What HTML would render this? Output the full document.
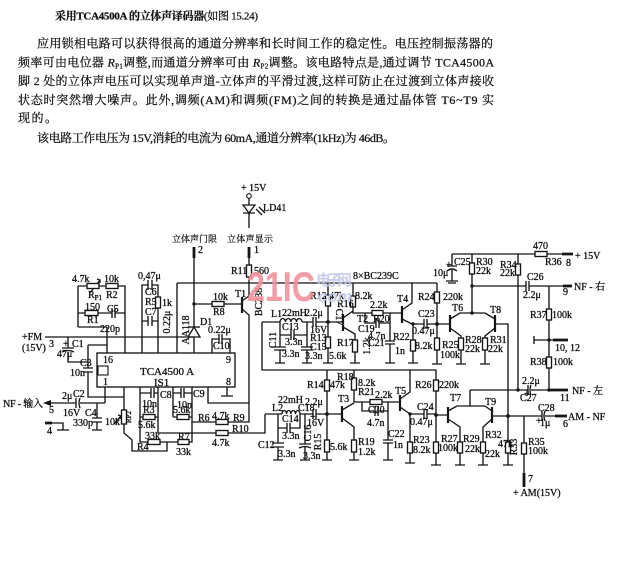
<!DOCTYPE html>
<html><head><meta charset="utf-8">
<style>
html,body{margin:0;padding:0;background:#fff;}
svg{display:block;}
.t{font-family:"Liberation Serif","Noto Serif CJK SC",serif;fill:#111;stroke:#111;stroke-width:0.25;}
.l{font-family:"Liberation Serif","Noto Serif CJK SC",serif;font-size:10px;fill:#111;stroke:#111;stroke-width:0.3;}
.c{font-family:"Liberation Serif","Noto Serif CJK SC",serif;font-size:9px;fill:#111;stroke:#111;stroke-width:0.2;}
.w{stroke:#151515;stroke-width:1.35;fill:none;}
.th{stroke:#151515;stroke-width:2.8;fill:none;}
.b{stroke:#151515;stroke-width:2.2;fill:none;}
.r{fill:#fff;stroke:#151515;stroke-width:1.35;}
</style></head><body>
<svg width="625" height="573" viewBox="0 0 625 573" xmlns="http://www.w3.org/2000/svg">
<rect width="625" height="573" fill="#fff"/>

<!-- Text block -->
<text class="t" x="55" y="19.5" font-size="11" font-weight="bold" textLength="203">采用TCA4500A 的立体声译码器<tspan font-weight="normal">(如图 15.24)</tspan></text>
<text class="t" x="37" y="47.5" font-size="12" textLength="456">应用锁相电路可以获得很高的通道分辨率和长时间工作的稳定性。电压控制振荡器的</text>
<text class="t" x="18" y="66.5" font-size="12" textLength="476">频率可由电位器 <tspan font-style="italic">R</tspan><tspan font-size="7" dy="2">P1</tspan><tspan dy="-2">调整,而通道分辨率可由 </tspan><tspan font-style="italic">R</tspan><tspan font-size="7" dy="2">P2</tspan><tspan dy="-2">调整。该电路特点是,通过调节 TCA4500A</tspan></text>
<text class="t" x="18" y="85" font-size="12" textLength="476">脚 2 处的立体声电压可以实现单声道-立体声的平滑过渡,这样可防止在过渡到立体声接收</text>
<text class="t" x="18" y="104" font-size="12" textLength="476">状态时突然增大噪声。此外,调频(AM)和调频(FM)之间的转换是通过晶体管 T6~T9 实</text>
<text class="t" x="18" y="122" font-size="12" textLength="39">现的。</text>
<text class="t" x="37" y="142" font-size="12" textLength="358">该电路工作电压为 15V,消耗的电流为 60mA,通道分辨率(1kHz)为 46dB。</text>

<!-- Wires -->
<path class="w" d="
M249 198 V205 M243 213 H255 M249 213 V228
M256 209 L262 215 M259 207 L265 213
M194 247 V327 M249 247 V265 M249 277 V298
M242 301 L249 296
M242 309 L249 315 V422 H192
M194 304 H242
M177 283 H437 M177 283 V353
M194 337 V353 M45 337 H194
M212 353 V339 H219 M222 339 H230 V353 M219 334 V344 M222 334 V344
M227 387 V396 M221 396 H233 M208 387 V403 H249
M107 353 V327 M78 327 H107
M68 337 V348 M62 348 H74 M62 352 Q68 349 74 352 M68 352 V362 H88
M88 345 V368 M83 368 H93 M83 372 H93 M88 372 V397 H124 M88 345 H107
M78 286 H125 V353 M78 286 V327
M90 293 L100 280 M97 279 L100 280 L100 283
M78 313 H112 M115 313 H125 M112 308 V318 M115 308 V318
M142 353 V285 H148 M152 285 H158 V353 M148 280 V290 M152 280 V290
M142 321 H148 M152 321 H158 M148 316 V326 M152 316 V326
M105 387 V403 M50 403 H76 M80 403 H105 M76 398 V408 M80 398 Q78 403 80 408
M97 403 V418 M92 418 H102 M92 422 H102 M97 422 V430 M92 430 H102
M52 423 H63 V430 M57 430 H69
M124 387 V410 M124 424 V433 L132 440 V451 H167 V442 M114 424 L121 416 M118 415 L121 416 L120 419
M158 387 V433 H265 V414
M140 393 H151 M154 393 H158 M151 388 V398 M154 388 V398
M140 387 V442 H192 V422 M140 417 H158
M173 387 V417 M192 387 V422
M173 393 H181 M184 393 H192 M181 388 V398 M184 388 V398 M173 417 H192
M262 322 V370 H436 V380
M262 322 H280 M302 322 H313 M316 322 H343 M313 317 V327 M316 317 V327
M280 322 V347 M274 347 H286 M274 350 H286 M280 350 V363 M275 363 H285
M280 335 H291 M294 335 H307 M291 330 V340 M294 330 V340
M307 322 V347 M301 347 H313 M301 350 H313 M307 350 V363 M302 363 H312
M328 283 V295 M328 306 V337 M328 348 V363 M323 363 H333
M343 318 L353 311 M343 327 L355 334 V340 M355 352 V363 M350 363 H360
M353 283 V296 M353 307 V313 H402
M365 313 V323 H376 M379 323 H390 M376 318 V328 M379 318 V328
M390 313 V341 M385 341 H395 M385 344 H395 M390 344 V363 M385 363 H395
M402 310 L412 303 V283 M402 319 L412 324 H424 M427 324 H437 M424 319 V329 M427 319 V329
M413 324 V340 M413 351 V363 M408 363 H418
M437 283 V292 M437 303 V338 M437 350 V364 M432 364 H442 M437 324 H450
M450 319 L460 313 M450 328 L461 336 V338 M461 350 V364 M456 364 H466
M495 319 L485 313 M495 328 L485 336 V338 M485 350 V364 M480 364 H490
M460 313 H485 M472 313 V274 M472 263 V254
M495 324 H508 V416
M452 254 H535 M547 254 H562
M452 254 V266 M447 266 H457 M447 271 Q452 267 457 271 M452 270 V281 M446 281 H458 M448 283 H456
M518 254 V264 M518 275 V390
M472 286 H526 M529 286 H563 M526 281 V291 M529 281 V291
M549 286 V309 M549 320 V357 M549 368 V390
M534 340 H553 M534 336 V344
M470 390 H528 M531 390 H550 M528 385 V395 M531 385 Q529 390 531 395
M265 414 H282 M300 414 H313 M316 414 H342 M313 409 V419 M316 409 V419
M278 414 V443 M272 443 H284 M272 447 H284 M278 447 V460 M273 460 H283
M278 428 H287 M290 428 H300 V414 M287 423 V433 M290 423 V433
M305 414 V444 M299 444 H311 M299 448 Q305 445 311 448 M305 447 V460 M300 460 H310
M327 370 V380 M327 391 V440 M327 452 V460 M322 460 H332
M342 410 L354 403 M342 418 L354 427 V440 M354 452 V460 M349 460 H359
M354 370 V378 M354 390 V402 H400
M362 402 V411 H375 M378 411 H388 M375 406 V416 M378 406 V416
M388 402 V440 M383 440 H393 M383 443 H393 M388 443 V460 M383 460 H393
M400 399 L410 392 V370 M400 407 L410 414 H424 M427 414 H436 M424 409 V419 M427 409 V419
M410 414 V442 M410 453 V463 M405 463 H415
M436 391 V442 M436 453 V465 M431 465 H441 M436 415 H448
M448 411 L457 406 M448 419 L460 427 V442 M460 453 V465 M455 465 H465
M492 411 L485 406 M492 419 L483 427 V442 M483 453 V465 M478 465 H488
M457 406 H485 M470 406 V390
M492 416 H542 M545 416 H555 M542 411 V421 M545 411 Q543 416 545 421
M508 416 V442 M508 453 V465 M503 465 H513
M524 416 V443 M524 454 V473
"/>
<!-- LED -->
<polygon points="243,205 255,205 249,213" fill="none" stroke="#151515" stroke-width="1.3"/>
<circle cx="249" cy="196" r="2.3" fill="#fff" stroke="#151515" stroke-width="1.1"/>
<!-- D1 -->
<polygon points="188,337 200,337 194,327" fill="none" stroke="#151515" stroke-width="1.3"/>
<path class="w" d="M188 327 H200"/>
<!-- Coils -->
<path class="w" d="M280 322 a2.75 3.5 0 0 1 5.5 0 a2.75 3.5 0 0 1 5.5 0 a2.75 3.5 0 0 1 5.5 0 a2.75 3.5 0 0 1 5.5 0"/>
<path class="w" d="M282 414 a2.25 3.5 0 0 1 4.5 0 a2.25 3.5 0 0 1 4.5 0 a2.25 3.5 0 0 1 4.5 0 a2.25 3.5 0 0 1 4.5 0"/>
<!-- thick -->
<path class="th" d="M194 247 V258 M249 247 V258 M562 254 H573 M563 286 H572 M553 340 H568 M550 390 H568 M555 416 H567 M524 473 V487 M45 423 H52"/>
<polygon points="43,403 51,400 51,406" fill="#151515"/>
<!-- transistor bars -->
<path class="b" d="M242 297 V313 M343 314 V331 M402 306 V323 M450 315 V332 M495 315 V332 M342 406 V422 M400 395 V411 M448 407 V423 M492 407 V423"/>
<!-- IC -->
<rect x="97" y="353" width="138" height="34" fill="none" stroke="#151515" stroke-width="1.35"/>
<rect x="98" y="366" width="10" height="9" fill="none" stroke="#151515" stroke-width="1.1"/>
<!-- resistors -->
<g class="r">
<rect x="246.5" y="265" width="5" height="12"/>
<rect x="212" y="301.5" width="12" height="5"/>
<rect x="216" y="419.5" width="12" height="5"/>
<rect x="216" y="430.5" width="12" height="5"/>
<rect x="87" y="283.5" width="12" height="5"/>
<rect x="106" y="283.5" width="12" height="5"/>
<rect x="85" y="310.5" width="13" height="5"/>
<rect x="155.5" y="297" width="5" height="11"/>
<rect x="121.5" y="410" width="5" height="14"/>
<rect x="143" y="414.5" width="12" height="5"/>
<rect x="177" y="414.5" width="12" height="5"/>
<rect x="148" y="439.5" width="12" height="5"/>
<rect x="178" y="439.5" width="11" height="5"/>
<rect x="325.5" y="295" width="5" height="11"/>
<rect x="325.5" y="337" width="5" height="11"/>
<rect x="352.5" y="340" width="5" height="12"/>
<rect x="350.5" y="296" width="5" height="11"/>
<rect x="372" y="310.5" width="11" height="5"/>
<rect x="410.5" y="340" width="5" height="11"/>
<rect x="434.5" y="292" width="5" height="11"/>
<rect x="434.5" y="338" width="5" height="12"/>
<rect x="458.5" y="338" width="5" height="12"/>
<rect x="482.5" y="338" width="5" height="12"/>
<rect x="469.5" y="263" width="5" height="11"/>
<rect x="535" y="251.5" width="12" height="5"/>
<rect x="515.5" y="264" width="5" height="11"/>
<rect x="546.5" y="309" width="5" height="11"/>
<rect x="546.5" y="357" width="5" height="11"/>
<rect x="324.5" y="380" width="5" height="11"/>
<rect x="324.5" y="440" width="5" height="12"/>
<rect x="351.5" y="440" width="5" height="12"/>
<rect x="351.5" y="378" width="5" height="12"/>
<rect x="370" y="399.5" width="12" height="5"/>
<rect x="407.5" y="442" width="5" height="11"/>
<rect x="433.5" y="380" width="5" height="11"/>
<rect x="433.5" y="442" width="5" height="11"/>
<rect x="457.5" y="442" width="5" height="11"/>
<rect x="480.5" y="442" width="5" height="11"/>
<rect x="505.5" y="442" width="5" height="11"/>
<rect x="521.5" y="443" width="5" height="11"/>
</g>
<!-- dots -->
<g fill="#151515">
<circle cx="328" cy="322" r="1.9"/><circle cx="437" cy="324" r="1.9"/><circle cx="327" cy="414" r="1.9"/>
<circle cx="436" cy="415" r="1.9"/><circle cx="508" cy="416" r="1.9"/><circle cx="194" cy="304" r="1.7"/>
<circle cx="472" cy="286" r="1.7"/><circle cx="549" cy="340" r="1.7"/><circle cx="518" cy="390" r="1.7"/>
<circle cx="472" cy="313" r="1.7"/><circle cx="549" cy="390" r="1.7"/><circle cx="410" cy="414" r="1.7"/>
<circle cx="413" cy="324" r="1.7"/>
</g>

<!-- Labels -->
<g class="l">
<text x="241" y="191">+ 15V</text>
<text x="263" y="211">LD41</text>
<text x="198" y="253">2</text>
<text x="254" y="253">1</text>
<text x="231" y="274">R11</text><text x="254" y="274">560</text>
<text x="235" y="297">T1</text>
<text x="213" y="300">10k</text><text x="213" y="315">R8</text>
<text x="200" y="325">D1</text><text x="208" y="333">0.22μ</text><text x="213" y="349">C10</text>
<text x="138" y="279">0,47μ</text><text x="145" y="295">C6</text><text x="145" y="305">R5</text><text x="162" y="306">1k</text><text x="145" y="315">C7</text>
<text x="72" y="282">4.7k</text><text x="104" y="282">10k</text>
<text x="88" y="298">R<tspan font-size="7" dy="2">P1</tspan></text><text x="106" y="298">R2</text>
<text x="85" y="310">150</text><text x="107" y="312">C5</text><text x="87" y="323">R1</text><text x="100" y="332">220p</text>
<text x="22" y="340">+FM</text><text x="22" y="351">(15V)</text><text x="49" y="347">3</text>
<text x="63" y="347">+</text><text x="72" y="347">C1</text><text x="57" y="357">47μ</text>
<text x="80" y="366">C3</text><text x="70" y="376">10n</text>
<text x="103" y="363">16</text><text x="226" y="363">9</text><text x="103" y="385">1</text><text x="226" y="385">8</text>
<text x="140" y="375" font-size="11">TCA4500 A</text><text x="154" y="386" font-size="11">IS1</text>
<text x="49" y="413">5</text><text x="62" y="399">2μ</text><text x="73" y="397">C2</text><text x="63" y="416">16V</text>
<text x="85" y="416">C4</text><text x="73" y="426">330p</text><text x="47" y="434">4</text>
<text x="105" y="425">10k</text>
<text x="160" y="398">C8</text><text x="142" y="407">10n</text><text x="193" y="397">C9</text><text x="177" y="408">10n</text>
<text x="143" y="413">R3</text><text x="138" y="428">5.6k</text><text x="173" y="413">5.6k</text><text x="198" y="421">R6</text>
<text x="212" y="419">4.7k</text><text x="233" y="421">R9</text><text x="232" y="432">R10</text><text x="212" y="446">4.7k</text>
<text x="145" y="439">33k</text><text x="137" y="450">R4</text><text x="178" y="440">R7</text><text x="176" y="455">33k</text>
<text x="271" y="317">L1</text><text x="282" y="316">22mH</text><text x="305" y="316">2.2μ</text>
<text x="282" y="330">C13</text><text x="285" y="345">3.3n</text><text x="282" y="357">3.3n</text>
<text x="310" y="333">16V</text><text x="310" y="341">R13</text><text x="310" y="350">C15</text><text x="305" y="359">3.3n</text><text x="329" y="359">5.6k</text>
<text x="310" y="299">R12</text><text x="329" y="299">47k</text><text x="337" y="307">R16</text><text x="355" y="299">8.2k</text>
<text x="353" y="279">8×BC239C</text>
<text x="370" y="308">2.2k</text><text x="373" y="322">R20</text><text x="357" y="322">T2</text>
<text x="358" y="332">C19</text><text x="368" y="339">4.7n</text><text x="337" y="346">R17</text>
<text x="368" y="346">C21</text><text x="395" y="354">1n</text><text x="393" y="340">R22</text><text x="415" y="349">8.2k</text>
<text x="397" y="302">T4</text><text x="418" y="300">R24</text><text x="443" y="300">220k</text>
<text x="418" y="317">C23</text><text x="412" y="334">0.47μ</text>
<text x="452" y="311">T6</text><text x="490" y="313">T8</text>
<text x="442" y="348">R25</text><text x="440" y="358">100k</text><text x="465" y="343">R28</text><text x="465" y="352">22k</text>
<text x="490" y="343">R31</text><text x="488" y="352">22k</text>
<text x="433" y="276">10μ</text><text x="446" y="268">+</text><text x="454" y="265">C25</text>
<text x="476" y="265">R30</text><text x="476" y="274">22k</text><text x="500" y="268">R34</text><text x="500" y="276">22k</text>
<text x="533" y="249">470</text><text x="545" y="265">R36</text><text x="566" y="266">8</text><text x="575" y="259">+ 15V</text>
<text x="527" y="280">C26</text><text x="523" y="298">2.2μ</text><text x="563" y="295">9</text>
<text x="530" y="318">R37</text><text x="552" y="318">100k</text><text x="555" y="351">10, 12</text>
<text x="530" y="365">R38</text><text x="553" y="365">100k</text>
<text x="522" y="384">2.2μ</text><text x="520" y="401">C27</text><text x="560" y="401">11</text><text x="524" y="397">+</text>
<text x="272" y="411">L2</text><text x="278" y="403">22mH</text><text x="298" y="411">C18</text><text x="305" y="405">2.2μ</text>
<text x="307" y="426">16V</text><text x="310" y="420">+</text>
<text x="282" y="422">C14</text><text x="282" y="439">3.3n</text><text x="303" y="459">3.3n</text>
<text x="258" y="448">C12</text><text x="278" y="457">3.3n</text>
<text x="307" y="388">R14</text><text x="330" y="388">47k</text><text x="337" y="380">R18</text><text x="358" y="386">8.2k</text>
<text x="358" y="395">R21</text><text x="375" y="398">2.2k</text><text x="395" y="394">T5</text><text x="338" y="402">T3</text>
<text x="368" y="413">C20</text><text x="367" y="426">4.7n</text><text x="388" y="437">C22</text><text x="393" y="448">1n</text>
<text x="417" y="410">C24</text><text x="410" y="425">0.47μ</text>
<text x="413" y="443">R23</text><text x="413" y="453">8.2k</text>
<text x="415" y="388">R26</text><text x="439" y="388">220k</text>
<text x="358" y="445">R19</text><text x="358" y="455">1.2k</text><text x="330" y="450">5.6k</text>
<text x="450" y="401">T7</text><text x="485" y="405">T9</text>
<text x="441" y="442">R27</text><text x="438" y="451">100k</text><text x="463" y="442">R29</text><text x="465" y="452">22k</text>
<text x="485" y="438">R32</text><text x="498" y="447">47k</text><text x="485" y="457">22k</text>
<text x="528" y="445">R35</text><text x="528" y="454">100k</text>
<text x="538" y="411">C28</text><text x="540" y="426">1μ</text><text x="536" y="424">+</text><text x="563" y="427">6</text>
<text x="568" y="420">AM - NF</text>
<text x="528" y="482">7</text><text x="513" y="496">+ AM(15V)</text>
<text x="574" y="290">NF - 右</text><text x="572" y="394">NF - 左</text>
<text x="3" y="407" textLength="40">NF - 输入</text>
</g>
<g class="l" font-size="9">
<text transform="translate(262,302) rotate(-90)" text-anchor="middle">BC238</text>
<text transform="translate(189,330) rotate(-90)" text-anchor="middle">AA118</text>
<text transform="translate(170,322) rotate(-90)" text-anchor="middle">0.22μ</text>
<text transform="translate(336,317) rotate(90)" text-anchor="middle">C17</text>
<text transform="translate(276,340) rotate(-90)" text-anchor="middle">C11</text>
<text transform="translate(370,346) rotate(-90)" text-anchor="middle">1.2k</text>
<text transform="translate(321,442) rotate(-90)" text-anchor="middle">R15</text>
<text transform="translate(311,433) rotate(-90)" text-anchor="middle">C16</text>
<text transform="translate(517,447) rotate(-90)" text-anchor="middle">R33</text>
<text transform="translate(131,417) rotate(-90)" text-anchor="middle" font-size="7">RP2</text>
</g>
<text class="c" x="172" y="242" textLength="45">立体声门限</text>
<text class="c" x="227" y="242" textLength="46">立体声显示</text>

<!-- Watermark -->
<g opacity="0.9">
<text x="247" y="301" font-family="Liberation Sans, sans-serif" font-weight="bold" font-size="42" fill="#f0939f" textLength="68" lengthAdjust="spacingAndGlyphs">21IC</text>
<text x="316" y="285" font-family="Liberation Sans, 'Noto Sans CJK SC', sans-serif" font-weight="bold" font-size="15" fill="#c3c9ea" textLength="36">电子网</text>
<text x="318" y="302" font-family="Liberation Sans, sans-serif" font-style="italic" font-weight="bold" font-size="17" fill="#c8cdec" textLength="34" lengthAdjust="spacingAndGlyphs">com</text>
</g>
</svg>
</body></html>
